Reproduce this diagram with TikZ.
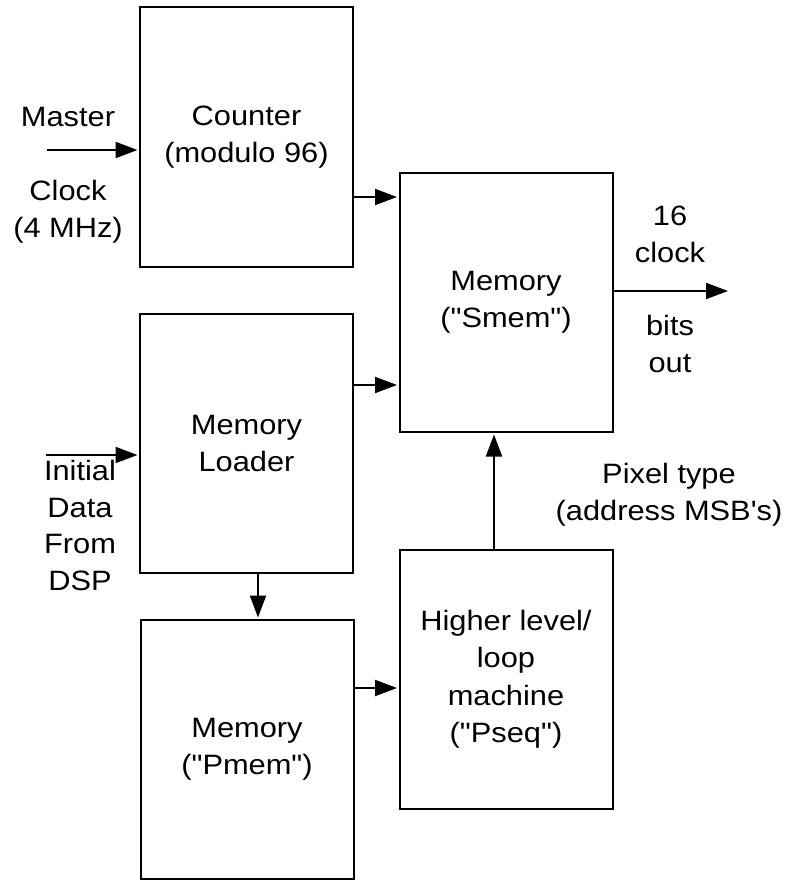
\documentclass[tikz,border=0pt]{standalone}
\usepackage{fontspec}
\setmainfont{Liberation Sans}[FakeStretch=1.1,Ligatures=TeXOff]
\usetikzlibrary{arrows.meta}
\begin{document}
\begin{tikzpicture}[x=1pt,y=-1pt,
  blk/.style={draw,line width=2pt,rectangle,minimum width=213pt,minimum height=259pt,inner sep=0pt,align=center,font=\fontsize{28}{37.5}\selectfont},
  lbl/.style={align=center,anchor=base,inner sep=0pt,font=\fontsize{28}{36.5}\selectfont},
  arr/.style={line width=2pt,-{Triangle[length=22pt,width=16pt]},shorten >=1.5pt}]
\useasboundingbox (0,0) rectangle (786,880);
\node[blk] (counter) at (246.5,137) {Counter\\(modulo 96)};
\node[blk] (smem) at (506,302.5) {Memory\\("Smem")};
\node[blk] (loader) at (246.5,443.5) {Memory\\Loader};
\node[blk] (pmem) at (247,749.5) {Memory\\("Pmem")};
\node[blk] (pseq) at (506,679.5) {Higher level/\\loop\\machine\\("Pseq")};
\coordinate (mc) at (47,150);
\coordinate (id) at (46,455);
\coordinate (out) at (728,291);
\node[lbl] (master) at (68,127) {Master};
\node[lbl] (clock) at (68,237) {Clock\\(4 MHz)};
\node[lbl] (initial) at (80,590) {Initial\\Data\\From\\DSP};
\node[lbl] (sixteen) at (670,262) {16\\clock};
\node[lbl] (bits) at (670,372) {bits\\out};
\node[lbl] (pixel) at (669,520) {Pixel type\\(address MSB's)};
\draw[arr] (mc) -- (counter.west |- mc);
\draw[arr] (id) -- (loader.west |- id);
\draw[arr] (counter.east |- 0,197) -- (smem.west |- 0,197);
\draw[arr] (loader.east |- 0,385) -- (smem.west |- 0,385);
\draw[arr] (loader.south -| 258,0) -- (pmem.north -| 258,0);
\draw[arr] (pmem.east |- 0,688) -- (pseq.west |- 0,688);
\draw[arr] (pseq.north -| 494,0) -- (smem.south -| 494,0);
\draw[arr,shorten >=0pt] (smem.east |- out) -- (out);
\end{tikzpicture}
\end{document}
